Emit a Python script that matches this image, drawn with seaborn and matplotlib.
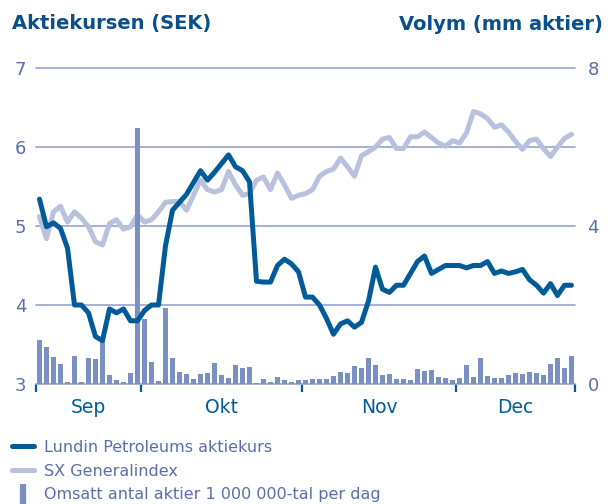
import numpy as np
import matplotlib
matplotlib.use("Agg")
import matplotlib.pyplot as plt
from matplotlib.lines import Line2D
import seaborn as sns

# trading days Sep-Dec, one value per day
lundin = [5.34, 4.99, 5.04, 4.97, 4.72, 4.00, 4.00, 3.90, 3.60, 3.55,
          3.95, 3.90, 3.95, 3.80, 3.80, 3.93, 4.00, 4.00, 4.75, 5.20,
          5.30, 5.40, 5.55, 5.70, 5.58, 5.68, 5.79, 5.90, 5.75, 5.70,
          5.56, 4.30, 4.29, 4.29, 4.50, 4.58, 4.52, 4.42, 4.10, 4.10,
          4.00, 3.83, 3.63, 3.76, 3.80, 3.72, 3.78, 4.05, 4.48, 4.20,
          4.16, 4.25, 4.25, 4.40, 4.55, 4.62, 4.40, 4.45, 4.50, 4.50,
          4.50, 4.47, 4.50, 4.50, 4.55, 4.40, 4.43, 4.40, 4.42, 4.45,
          4.32, 4.25, 4.15, 4.27, 4.12, 4.25, 4.25]

sx_index = [5.12, 4.84, 5.18, 5.25, 5.05, 5.18, 5.10, 4.99, 4.80, 4.76,
            5.03, 5.08, 4.96, 4.99, 5.14, 5.05, 5.08, 5.18, 5.30, 5.31,
            5.31, 5.20, 5.39, 5.58, 5.46, 5.43, 5.46, 5.69, 5.52, 5.39,
            5.41, 5.58, 5.62, 5.46, 5.67, 5.52, 5.35, 5.39, 5.41, 5.46,
            5.63, 5.69, 5.72, 5.86, 5.75, 5.63, 5.89, 5.94, 6.00, 6.10,
            6.12, 5.98, 5.98, 6.13, 6.13, 6.19, 6.12, 6.05, 6.01, 6.08,
            6.05, 6.18, 6.45, 6.42, 6.36, 6.25, 6.28, 6.19, 6.07, 5.97,
            6.08, 6.10, 5.98, 5.88, 6.00, 6.11, 6.16]

volume = [1.11, 0.94, 0.68, 0.51, 0.05, 0.71, 0.05, 0.66, 0.63, 1.10,
          0.23, 0.10, 0.05, 0.28, 6.48, 1.65, 0.56, 0.08, 1.92, 0.66,
          0.30, 0.25, 0.13, 0.25, 0.28, 0.53, 0.23, 0.15, 0.48, 0.40,
          0.43, 0.03, 0.13, 0.05, 0.18, 0.10, 0.05, 0.10, 0.10, 0.13,
          0.13, 0.13, 0.20, 0.30, 0.28, 0.45, 0.40, 0.66, 0.48, 0.23,
          0.25, 0.13, 0.13, 0.10, 0.38, 0.32, 0.35, 0.18, 0.15, 0.10,
          0.15, 0.48, 0.18, 0.66, 0.20, 0.15, 0.15, 0.23, 0.28, 0.25,
          0.30, 0.28, 0.23, 0.51, 0.66, 0.40, 0.71]

days = np.arange(len(lundin))
months = ["Sep", "Okt", "Nov", "Dec"]
month_start = [0, 15, 38, 60]   # index of first trading day in each month

DARK = "#005b98"
GRAY = "#b9c1de"
BAR = "#7a8fc2"
GRID = "#9eaad2"
TICKTXT = "#5a6fa8"
TITLE = "#0b4f8a"

sns.set_theme(style="white")
plt.rcParams["font.family"] = ["DejaVu Sans"]

fig = plt.figure(figsize=(6.1, 5.04), dpi=100)
ax = fig.add_axes([36 / 610, 120 / 504, 539 / 610, 316 / 504])
ax_v = ax.twinx()
ax_top = ax.twinx()

# index line at the back, volume bars over it, share price on top
sns.lineplot(x=days, y=sx_index, ax=ax, color=GRAY, lw=3.6)
sns.barplot(x=days, y=volume, ax=ax_v, native_scale=True, color=BAR,
            width=0.78, saturation=1, linewidth=0, errorbar=None)
sns.lineplot(x=days, y=lundin, ax=ax_top, color=DARK, lw=3.6)

ax.set_ylim(3, 7)
ax_top.set_ylim(3, 7)
ax_v.set_ylim(0, 8)

for a in (ax, ax_v, ax_top):
    for s in a.spines.values():
        s.set_visible(False)
    a.set_xlabel("")
    a.set_ylabel("")

ax.set_yticks([3, 4, 5, 6, 7])
ax.grid(axis="y", color=GRID, lw=1.3)
ax.grid(axis="x", visible=False)
for gl in ax.get_ygridlines():
    gl.set_clip_on(False)
ax.tick_params(axis="y", length=0, pad=7, labelsize=13, labelcolor=TICKTXT)

ax_v.set_yticks([0, 4, 8])
ax_v.tick_params(axis="y", length=0, pad=9, labelsize=13, labelcolor=TICKTXT)
ax_top.set_yticks([])

bounds = [m - 0.5 for m in month_start] + [len(days) - 0.5]
centers = [(bounds[i] + bounds[i + 1]) / 2 for i in range(len(months))]
ax.set_xlim(bounds[0], bounds[-1])
ax.set_xticks(bounds)
ax.set_xticklabels([""] * len(bounds))
ax.set_xticks(centers, minor=True)
ax.set_xticklabels(months, minor=True)
ax.tick_params(axis="x", which="major", bottom=True, length=6, width=1.6,
               color=DARK, direction="out")
ax.tick_params(axis="x", which="minor", bottom=True, length=0, pad=10,
               labelsize=13.5, labelcolor=DARK)

fig.text(12 / 610, 1 - 24 / 504, "Aktiekursen (SEK)", fontsize=14,
         fontweight="bold", color=TITLE, va="center", ha="left")
fig.text(603 / 610, 1 - 24 / 504, "Volym (mm aktier)", fontsize=14,
         fontweight="bold", color=TITLE, va="center", ha="right")

handles = [
    Line2D([], [], color=DARK, lw=3.6),
    Line2D([], [], color=GRAY, lw=3.6),
    Line2D([], [], color=BAR, marker="|", markersize=14, markeredgewidth=4.5,
           linestyle="none"),
]
labels = ["Lundin Petroleums aktiekurs", "SX Generalindex",
          "Omsatt antal aktier 1 000 000-tal per dag"]
fig.legend(handles, labels, loc="upper left",
           bbox_to_anchor=(7 / 610, 1 - 435 / 504), frameon=False,
           fontsize=11.5, labelcolor=TICKTXT, handlelength=1.4,
           handletextpad=0.62, labelspacing=0.55, borderaxespad=0,
           borderpad=0.3)

fig.savefig("out.png", dpi=100)
